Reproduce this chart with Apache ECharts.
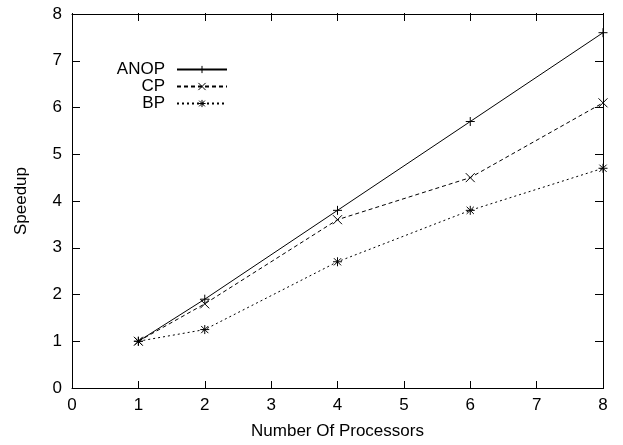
<!DOCTYPE html>
<html>
<head>
<meta charset="utf-8">
<script src="https://cdn.jsdelivr.net/npm/echarts@6/dist/echarts.min.js"></script>
<style>
  html, body { margin: 0; padding: 0; background: #fff; }
  #chart { width: 623px; height: 445px; }
</style>
</head>
<body>
<div id="chart"></div>
<script>
var processors = [1, 2, 4, 6, 8];
var anop = [1, 1.9, 3.8, 5.7, 7.6];
var cp = [1, 1.8, 3.6, 4.5, 6.1];
var bp = [1, 1.25, 2.7, 3.8, 4.7];
var seriesNames = ["ANOP", "CP", "BP"];

function pairs(ys) {
  return processors.map(function (x, i) { return [x, ys[i]]; });
}

// gnuplot-like point marks
var plusMark = "path://M0,5L10,5M5,0L5,10";
var crossMark = "path://M0,0L10,10M10,0L0,10";
var starMark = "path://M0,5L10,5M5,0L5,10M1,1L9,9M9,1L1,9";

var font = "Liberation Sans, Arial, sans-serif";
var fs = 17;
var gridW = 623 - 72 - 20;
var gridH = 445 - 14 - 56;

function axisBase(extra) {
  var a = {
    type: "value",
    min: 0,
    max: 8,
    interval: 1,
    splitLine: { show: false },
    axisLine: { show: true, onZero: false, lineStyle: { color: "#000", width: 1 } },
    axisTick: { show: false },
    axisLabel: { show: false }
  };
  for (var k in extra) a[k] = extra[k];
  return a;
}

// tick-only axis, pushed across the grid so its outward ticks point inward
function tickAxis(position, offset) {
  return axisBase({
    position: position,
    offset: offset,
    axisLine: { show: false, onZero: false },
    axisTick: { show: true, inside: false, length: 8, lineStyle: { color: "#000", width: 1 } }
  });
}

function makeSeries(name, ys, dash, mark) {
  return {
    name: name,
    type: "line",
    xAxisIndex: 0,
    yAxisIndex: 0,
    data: pairs(ys),
    symbol: mark,
    symbolSize: 9,
    showAllSymbol: true,
    itemStyle: { color: "rgba(0,0,0,0)", borderColor: "#000", borderWidth: 1 },
    lineStyle: { color: "#000", width: 1, type: dash },
    emphasis: { disabled: true },
    animation: false
  };
}

function legendItem(name, top, right) {
  return {
    data: [{ name: name, itemStyle: { color: "rgba(0,0,0,0)", borderColor: "#000", borderWidth: 1 } }],
    top: top,
    right: right,
    orient: "vertical",
    align: "right",
    itemWidth: 50,
    itemHeight: 9,
    itemGap: 0,
    textStyle: { fontSize: fs, fontFamily: font, color: "#000", padding: [0, 7, 0, 0] },
    selectedMode: false,
    padding: 0
  };
}

var myChart = echarts.init(document.getElementById("chart"), null, { renderer: "canvas" });
myChart.setOption({
  backgroundColor: "#fff",
  animation: false,
  grid: { left: 72, right: 20, top: 14, bottom: 56, show: false },
  legend: [
    legendItem("ANOP", 61, 395),
    legendItem("CP", 78, 395),
    legendItem("BP", 95, 395)
  ],
  xAxis: [
    axisBase({
      position: "bottom",
      name: "Number Of Processors",
      nameLocation: "middle",
      nameGap: 35,
      nameTextStyle: { fontSize: fs, fontFamily: font, color: "#000" },
      axisLabel: { show: true, color: "#000", fontSize: fs, fontFamily: font, margin: 9 }
    }),
    axisBase({ position: "top" }),
    tickAxis("top", -gridH),
    tickAxis("bottom", -gridH)
  ],
  yAxis: [
    axisBase({
      position: "left",
      name: "Speedup",
      nameLocation: "middle",
      nameGap: 42,
      nameRotate: 90,
      nameTextStyle: { fontSize: fs, fontFamily: font, color: "#000" },
      axisLabel: { show: true, color: "#000", fontSize: fs, fontFamily: font, margin: 10 }
    }),
    axisBase({ position: "right" }),
    tickAxis("right", -gridW),
    tickAxis("left", -gridW)
  ],
  series: [
    makeSeries(seriesNames[0], anop, "solid", plusMark),
    makeSeries(seriesNames[1], cp, [4, 3], crossMark),
    makeSeries(seriesNames[2], bp, [2, 3], starMark)
  ]
});
</script>
</body>
</html>
